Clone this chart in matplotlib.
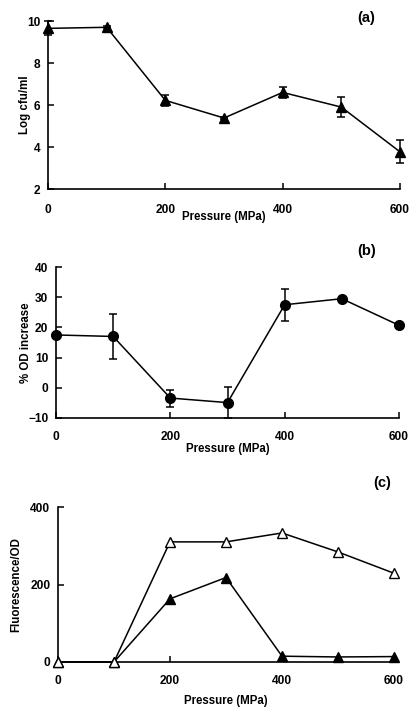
import matplotlib
matplotlib.use("Agg")
import matplotlib.pyplot as plt

plt.rcParams['font.family'] = ['Liberation Sans', 'DejaVu Sans']
plt.rcParams['font.weight'] = 'bold'

pressure = [0, 100, 200, 300, 400, 500, 600]

# (a) viable counts
log_cfu = [9.65, 9.70, 6.22, 5.38, 6.60, 5.90, 3.77]
log_cfu_err = [0.33, 0.05, 0.28, 0.05, 0.27, 0.48, 0.55]

# (b) OD increase
od_increase = [17.5, 17.0, -3.4, -4.9, 27.5, 29.5, 20.7]
od_increase_err = [0.5, 7.5, 2.8, 5.0, 5.3, 0.5, 0.5]

# (c) fluorescence / OD
fluor_open = [0, 0, 310, 310, 333, 284, 229]
fluor_filled = [0, 0, 163, 218, 15, 13, 14]

W, H = 417, 715
fig = plt.figure(figsize=(W / 100, H / 100), dpi=100)
FS_TICK = 8.6
FS_LAB = 8.3


def add_ax(l, r, t, b):
    return fig.add_axes([l / W, 1 - b / H, (r - l) / W, (b - t) / H])


def style(ax, yticks, ylim, xpad, xlabelpad):
    ax.set_xlim(0, 600)
    ax.set_ylim(*ylim)
    ax.set_xticks([0, 200, 400, 600])
    ax.set_yticks(yticks)
    for s in ['top', 'right']:
        ax.spines[s].set_visible(False)
    for s in ['left', 'bottom']:
        ax.spines[s].set_linewidth(1.2)
    ax.tick_params(direction='in', length=4, width=1.1, labelsize=FS_TICK)
    ax.tick_params(axis='y', pad=5.5)
    ax.tick_params(axis='x', pad=xpad)
    for lab in ax.get_xticklabels() + ax.get_yticklabels():
        lab.set_fontweight('bold')
    ax.set_xlabel('Pressure (MPa)', fontsize=FS_LAB, fontweight='bold',
                  labelpad=xlabelpad)


def ylab(ax, text, xfrac):
    ax.set_ylabel(text, fontsize=FS_LAB, fontweight='bold', va='center')
    ax.yaxis.set_label_coords(xfrac, 0.5)


# (a)
ax1 = add_ax(48, 400, 21, 189)
ax1.errorbar(pressure, log_cfu, yerr=log_cfu_err, color='black', marker='^',
             markersize=6.5, linewidth=1.1, elinewidth=1.1, capsize=3, capthick=1.1,
             clip_on=False, zorder=3)
style(ax1, [2, 4, 6, 8, 10], (2, 10), xpad=10.5, xlabelpad=-3)
ylab(ax1, 'Log cfu/ml', -0.065)
ax1.text(366 / W, 1 - 18 / H, '(a)', transform=fig.transFigure, fontsize=10.5,
         fontweight='bold', ha='center', va='center')

# (b)
ax2 = add_ax(56, 399, 267, 418)
ax2.errorbar(pressure, od_increase, yerr=od_increase_err, color='black', marker='o',
             markersize=7, linewidth=1.1, elinewidth=1.1, capsize=3, capthick=1.1,
             clip_on=False, zorder=3)
style(ax2, [-10, 0, 10, 20, 30, 40], (-10, 40), xpad=9, xlabelpad=0.5)
ylab(ax2, '% OD increase', -0.0875)
ax2.text(367 / W, 1 - 251 / H, '(b)', transform=fig.transFigure, fontsize=10.5,
         fontweight='bold', ha='center', va='center')

# (c)
ax3 = add_ax(58, 394, 507, 662)
ax3.plot(pressure, fluor_open, color='black', marker='^', markerfacecolor='white',
         markersize=6.5, linewidth=1.1, clip_on=False, zorder=3)
ax3.plot(pressure, fluor_filled, color='black', marker='^', markersize=6.5,
         linewidth=1.1, clip_on=False, zorder=2)
style(ax3, [0, 200, 400], (0, 400), xpad=9, xlabelpad=6)
ylab(ax3, 'Fluorescence/OD', -0.123)
ax3.text(382 / W, 1 - 483 / H, '(c)', transform=fig.transFigure, fontsize=10.5,
         fontweight='bold', ha='center', va='center')

fig.savefig('out.png', dpi=100)
